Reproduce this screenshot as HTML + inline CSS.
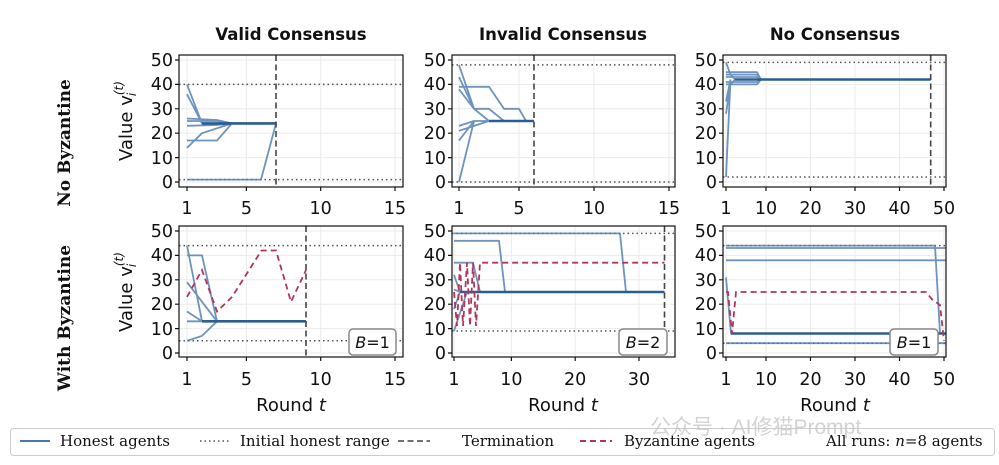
<!DOCTYPE html><html><head><meta charset="utf-8"><style>body{margin:0;background:#fff}svg{display:block}</style></head><body>
<svg width="999" height="465" xmlns="http://www.w3.org/2000/svg" font-family="DejaVu Sans, Liberation Sans, sans-serif">
<rect width="999" height="465" fill="#fff"/>
<g font-weight="bold" font-size="16.5" text-anchor="middle" fill="#111">
<text x="291" y="40">Valid Consensus</text><text x="563" y="40">Invalid Consensus</text><text x="835" y="40">No Consensus</text></g>
<g font-family="DejaVu Serif, Liberation Serif, serif" font-weight="bold" font-size="17" text-anchor="middle" fill="#111">
<text transform="translate(70,143) rotate(-90)">No Byzantine</text>
<text transform="translate(70,318) rotate(-90)">With Byzantine</text></g>
<g font-size="18" fill="#111" text-anchor="middle">
<text transform="translate(132,121) rotate(-90)">Value v<tspan font-style="italic" font-size="12" dy="-9">(t)</tspan><tspan font-style="italic" font-size="12" dx="-15" dy="13">i</tspan></text>
<text transform="translate(132,292) rotate(-90)">Value v<tspan font-style="italic" font-size="12" dy="-9">(t)</tspan><tspan font-style="italic" font-size="12" dx="-15" dy="13">i</tspan></text>
<text x="291" y="411">Round <tspan font-style="italic">t</tspan></text>
<text x="563" y="411">Round <tspan font-style="italic">t</tspan></text>
<text x="835" y="411">Round <tspan font-style="italic">t</tspan></text></g>

<g stroke="#ebebeb" stroke-width="1">
<path d="M179 60H403M179 84.4H403M179 108.8H403M179 133.2H403M179 157.6H403M179 182H403M187 55V187M246.4 55V187M320.7 55V187M395 55V187"/>
<path d="M179 231H403M179 255.4H403M179 279.8H403M179 304.2H403M179 328.6H403M179 353H403M187 226V357M246.4 226V357M320.7 226V357M395 226V357"/>
<path d="M452 60H675M452 84.4H675M452 108.8H675M452 133.2H675M452 157.6H675M452 182H675M459 55V187M519 55V187M594 55V187M669 55V187"/>
<path d="M452 231H675M452 255.4H675M452 279.8H675M452 304.2H675M452 328.6H675M452 353H675M454 226V357M511.4 226V357M575.2 226V357M639 226V357"/>
<path d="M723 60H946M723 84.4H946M723 108.8H946M723 133.2H946M723 157.6H946M723 182H946M726 55V187M766 55V187M810.5 55V187M855 55V187M899.5 55V187M944 55V187"/>
<path d="M723 231H946M723 255.4H946M723 279.8H946M723 304.2H946M723 328.6H946M723 353H946M726 226V357M766 226V357M810.5 226V357M855 226V357M899.5 226V357M944 226V357"/>
</g>
<g stroke="#555" stroke-width="1.5" stroke-dasharray="1.5,3" fill="none">
<path d="M179 84.4H403M179 179.6H403M179 245.6H403M179 340.8H403"/>
<path d="M452 64.9H675M452 182H675M452 233.4H675M452 331H675"/>
<path d="M723 62.4H946M723 177H946M723 245.6H946M723 343.2H946"/>
</g>
<g stroke="#4a78ad" stroke-opacity="0.8" stroke-width="1.8" fill="none" stroke-linejoin="round">
<path d="M187 84.4L202 123.4L276 123.4M187 94.2L202 123.4M187 121L217 121L232 123.4M187 118.5L217 120L232 123.4M187 125.8L217 125L232 123.4M187 140.5L217 140.5L232 123.4M187 147.8L202 133.2L232 123.4M187 179.6L261 179.6L276 123.4"/>
<path d="M187 245.6L202 321.3L306 321.3M187 255.4L202 255.4L217 321.3M187 282.2L217 321.3M187 311.5L202 321.3M187 321.3L202 321.3M187 340.8L202 335.9L217 321.3"/>
<path d="M459 64.9L474 108.8L489 121L534 121M459 77L474 108.8L489 121M459 86.8L489 86.8L504 108.8L519 108.8L526 121M459 89.3L474 108.8L489 108.8L504 121M459 125.9L474 121L534 121M459 130.8L474 125.9L489 121M459 140.5L474 121M459 182L474 121"/>
<path d="M454 233.4L620 233.4L626 292L664.5 292M454 240.8L499 240.8L505 292M454 262.7L473 262.7L480 292M454 274.9L460 292L664.5 292M454 289.6L460 292M454 309L460 292M454 331L467 292"/>
<path d="M726 62.4L730.5 74.6L735 79.5L930.7 79.5M726 72.2L757 72.2L761 79.5M726 74.6L757 74.6L761 79.5M726 77L757 77L761 79.5M726 82L757 82L761 79.5M726 84.4L757 84.4L761 79.5M726 101.5L730.5 79.5M726 113.7L730.5 84.4L735 79.5M726 177L730.5 79.5"/>
<path d="M726 245.6L935 245.6L940 333.5L944 333.5M726 248L946 248M726 260.3L946 260.3M726 277.4L731 333.5L946 333.5M726 343.2L946 343.2"/>
</g>
<g stroke="#2b5d95" stroke-width="2.6" fill="none"><path d="M202 123.4H276M202 321.3H306M489 121H534M460 292H664.5M735 79.5H930.7M731 333.5H946"/></g>
<g stroke="#b0365c" stroke-width="1.8" stroke-dasharray="6,4" fill="none">
<path d="M187 296.9L202 270L217 311.5L232 296.9L261.5 250.5L276 250.5L291 301.8L306 270"/>
<path d="M454 292L457 326L460 262.7L463 326L467 262.7L470 326L473 262.7L476 326L480 262.7L664.5 262.7"/>
<path d="M726 292L728 292L732 333.5L736 292L926 292L932 299.3L940 305L944 340.8"/>
</g>
<g stroke="#444" stroke-width="1.6" stroke-dasharray="6,3.5"><path d="M276 55V187M306 226V357M534 55V187M664.5 226V357M930.7 55V187"/></g>
<g stroke="#111" stroke-width="1.2" fill="none">
<rect x="179" y="55" width="224" height="132"/><rect x="179" y="226" width="224" height="131"/>
<rect x="452" y="55" width="223" height="132"/><rect x="452" y="226" width="223" height="131"/>
<rect x="723" y="55" width="223" height="132"/><rect x="723" y="226" width="223" height="131"/>
<path d="M175 60h4M175 84.4h4M175 108.8h4M175 133.2h4M175 157.6h4M175 182h4M175 231h4M175 255.4h4M175 279.8h4M175 304.2h4M175 328.6h4M175 353h4"/>
<path d="M448 60h4M448 84.4h4M448 108.8h4M448 133.2h4M448 157.6h4M448 182h4M448 231h4M448 255.4h4M448 279.8h4M448 304.2h4M448 328.6h4M448 353h4"/>
<path d="M719 60h4M719 84.4h4M719 108.8h4M719 133.2h4M719 157.6h4M719 182h4M719 231h4M719 255.4h4M719 279.8h4M719 304.2h4M719 328.6h4M719 353h4"/>
<path d="M187 187v4M246.4 187v4M320.7 187v4M395 187v4M187 357v4M246.4 357v4M320.7 357v4M395 357v4"/>
<path d="M459 187v4M519 187v4M594 187v4M669 187v4M454 357v4M511.4 357v4M575.2 357v4M639 357v4"/>
<path d="M726 187v4M766 187v4M810.5 187v4M855 187v4M899.5 187v4M944 187v4M726 357v4M766 357v4M810.5 357v4M855 357v4M899.5 357v4M944 357v4"/>
</g>
<g font-size="17.5" fill="#111" text-anchor="end">
<text x="173" y="66">50</text><text x="173" y="90">40</text><text x="173" y="115">30</text><text x="173" y="139">20</text><text x="173" y="164">10</text><text x="173" y="188">0</text>
<text x="173" y="237">50</text><text x="173" y="261">40</text><text x="173" y="286">30</text><text x="173" y="310">20</text><text x="173" y="335">10</text><text x="173" y="359">0</text>
<text x="446" y="66">50</text><text x="446" y="90">40</text><text x="446" y="115">30</text><text x="446" y="139">20</text><text x="446" y="164">10</text><text x="446" y="188">0</text>
<text x="446" y="237">50</text><text x="446" y="261">40</text><text x="446" y="286">30</text><text x="446" y="310">20</text><text x="446" y="335">10</text><text x="446" y="359">0</text>
<text x="717" y="66">50</text><text x="717" y="90">40</text><text x="717" y="115">30</text><text x="717" y="139">20</text><text x="717" y="164">10</text><text x="717" y="188">0</text>
<text x="717" y="237">50</text><text x="717" y="261">40</text><text x="717" y="286">30</text><text x="717" y="310">20</text><text x="717" y="335">10</text><text x="717" y="359">0</text>
</g>
<g font-size="17.5" fill="#111" text-anchor="middle">
<text x="187" y="214">1</text><text x="246.4" y="214">5</text><text x="320.7" y="214">10</text><text x="395" y="214">15</text>
<text x="187" y="385">1</text><text x="246.4" y="385">5</text><text x="320.7" y="385">10</text><text x="395" y="385">15</text>
<text x="459" y="214">1</text><text x="519" y="214">5</text><text x="594" y="214">10</text><text x="669" y="214">15</text>
<text x="454" y="385">1</text><text x="511.4" y="385">10</text><text x="575.2" y="385">20</text><text x="639" y="385">30</text>
<text x="726" y="214">1</text><text x="766" y="214">10</text><text x="810.5" y="214">20</text><text x="855" y="214">30</text><text x="899.5" y="214">40</text><text x="944" y="214">50</text>
<text x="726" y="385">1</text><text x="766" y="385">10</text><text x="810.5" y="385">20</text><text x="855" y="385">30</text><text x="899.5" y="385">40</text><text x="944" y="385">50</text>
</g>
<g stroke="#888" stroke-width="1.5" fill="#fff"><rect x="349" y="329" width="47" height="26" rx="4"/><rect x="619" y="329" width="48" height="26" rx="4"/><rect x="890" y="329" width="48" height="26" rx="4"/></g>
<g font-size="16" fill="#111" text-anchor="middle"><text x="372.5" y="348"><tspan font-style="italic">B</tspan>=1</text><text x="643" y="348"><tspan font-style="italic">B</tspan>=2</text><text x="914" y="348"><tspan font-style="italic">B</tspan>=1</text></g>
<rect x="10.5" y="428.5" width="984" height="27" rx="3" fill="#fff" stroke="#ccc"/>
<path d="M20 441H50" stroke="#4a78ad" stroke-width="2"/>
<path d="M200 441H230" stroke="#555" stroke-width="1.5" stroke-dasharray="1.5,3"/>
<path d="M398 441H430" stroke="#444" stroke-width="1.6" stroke-dasharray="6,3.5"/>
<path d="M580 441H612" stroke="#b0365c" stroke-width="2" stroke-dasharray="6,4"/>
<g font-family="DejaVu Serif, Liberation Serif, serif" font-size="15" fill="#111">
<text x="60" y="446">Honest agents</text><text x="240" y="446">Initial honest range</text><text x="462" y="446">Termination</text><text x="624" y="446">Byzantine agents</text>
<text x="826" y="446">All runs: <tspan font-style="italic">n</tspan>=8 agents</text></g>
<text x="650" y="434" font-size="21" fill="#c8c8c8" fill-opacity="0.8" font-family="Liberation Sans, Noto Sans CJK SC, sans-serif">公众号 · AI修猫Prompt</text>
</svg></body></html>
